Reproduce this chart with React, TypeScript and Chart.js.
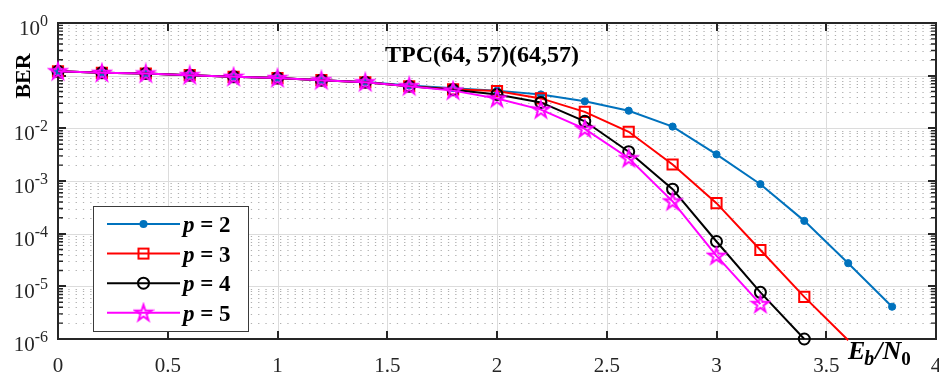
import React, { useEffect, useRef } from 'react';
import { Chart, registerables } from 'chart.js';

Chart.register(...registerables);

// ---------------- data ----------------
const ebn0 = [0, 0.2, 0.4, 0.6, 0.8, 1.0, 1.2, 1.4, 1.6, 1.8, 2.0, 2.2, 2.4, 2.6, 2.8, 3.0, 3.2, 3.4, 3.6, 3.8];
const berP2 = [0.121, 0.113, 0.11, 0.102, 0.095, 0.09, 0.082, 0.076, 0.065, 0.058, 0.052, 0.044, 0.0326, 0.0216, 0.0108, 0.0032, 0.00087, 1.75e-4, 2.75e-5, 4.1e-6];
const berP3 = [0.121, 0.113, 0.11, 0.102, 0.095, 0.09, 0.082, 0.075, 0.063, 0.055, 0.051, 0.037, 0.0205, 0.0086, 0.00206, 3.8e-4, 4.9e-5, 6.3e-6, 9.5e-7];
const berP4 = [0.121, 0.113, 0.11, 0.102, 0.095, 0.09, 0.082, 0.075, 0.063, 0.054, 0.044, 0.031, 0.0136, 0.0036, 7.0e-4, 7.1e-5, 7.7e-6, 1.0e-6];
const berP5 = [0.121, 0.113, 0.11, 0.102, 0.095, 0.09, 0.082, 0.075, 0.063, 0.052, 0.037, 0.0227, 0.0098, 0.0027, 4.1e-4, 3.8e-5, 4.6e-6];
const seriesP = ['2', '3', '4', '5'];
const xTickValues = [0, 0.5, 1, 1.5, 2, 2.5, 3, 3.5, 4];
const xTickLabels = ['0', '0.5', '1', '1.5', '2', '2.5', '3', '3.5', '4'];
const yExponents = [0, -1, -2, -3, -4, -5, -6];
const yLabelExponents = [0, -2, -3, -4, -5, -6];
const titleText = 'TPC(64, 57)(64,57)';
const yTitleText = 'BER';

const Y_MIN = 1e-6;
const Y_MAX = 1;
const FONT = "'Liberation Serif', 'Times New Roman', serif";
const AXIS = '#262626';

function makeStar(color: string): HTMLCanvasElement {
  const c = document.createElement('canvas');
  c.width = 22;
  c.height = 22;
  const g = c.getContext('2d')!;
  const R = 8.5;
  const r = R * 0.382;
  g.beginPath();
  for (let i = 0; i < 10; i++) {
    const ang = -Math.PI / 2 + (i * Math.PI) / 5;
    const rad = i % 2 === 0 ? R : r;
    const px = 11 + rad * Math.cos(ang);
    const py = 11.5 + rad * Math.sin(ang);
    if (i === 0) g.moveTo(px, py);
    else g.lineTo(px, py);
  }
  g.closePath();
  g.strokeStyle = color;
  g.lineWidth = 2;
  g.stroke();
  return c;
}

type Kind = 'dot' | 'square' | 'circle' | 'star';

function drawMarker(ctx: CanvasRenderingContext2D, kind: Kind, x: number, y: number, color: string, star: HTMLCanvasElement) {
  ctx.save();
  ctx.setLineDash([]);
  if (kind === 'dot') {
    ctx.fillStyle = color;
    ctx.beginPath();
    ctx.arc(x, y, 4, 0, Math.PI * 2);
    ctx.fill();
  } else if (kind === 'square') {
    ctx.strokeStyle = color;
    ctx.lineWidth = 2;
    ctx.strokeRect(x - 5, y - 5, 10, 10);
  } else if (kind === 'circle') {
    ctx.strokeStyle = color;
    ctx.lineWidth = 2;
    ctx.beginPath();
    ctx.arc(x, y, 5.5, 0, Math.PI * 2);
    ctx.stroke();
  } else {
    ctx.drawImage(star, x - 11, y - 11);
  }
  ctx.restore();
}

export default function App() {
  const ref = useRef<HTMLCanvasElement | null>(null);

  useEffect(() => {
    if (!ref.current) return;
    const star = makeStar('#FF00FF');
    const colors = ['#0072BD', '#FF0000', '#000000', '#FF00FF'];
    const kinds: Kind[] = ['dot', 'square', 'circle', 'star'];
    const bers = [berP2, berP3, berP4, berP5];
    const pts = bers.map((b) => b.map((v, i) => ({ x: ebn0[i], y: v })));

    const radiusFor = (r: number) => (c: any) => (c.raw && c.raw.y < Y_MIN ? 0 : r);

    const plugin = {
      id: 'matlabLook',
      beforeDatasetsDraw(chart: any) {
        const { ctx, chartArea: a, scales } = chart;
        const xs = scales.x;
        const ys = scales.y;
        ctx.save();
        // minor dotted horizontal grid
        ctx.lineWidth = 1;
        ctx.strokeStyle = '#b0b0b0';
        ctx.setLineDash([1.3, 6]);
        for (let e = -6; e < 0; e++) {
          for (let m = 2; m <= 9; m++) {
            const py = Math.round(ys.getPixelForValue(m * Math.pow(10, e))) + 0.5;
            ctx.beginPath();
            ctx.moveTo(a.left + 3, py);
            ctx.lineTo(a.right, py);
            ctx.stroke();
          }
        }
        // major grid
        ctx.setLineDash([]);
        ctx.strokeStyle = '#dcdcdc';
        xTickValues.slice(1, -1).forEach((v) => {
          const px = Math.round(xs.getPixelForValue(v)) + 0.5;
          ctx.beginPath();
          ctx.moveTo(px, a.top);
          ctx.lineTo(px, a.bottom);
          ctx.stroke();
        });
        yExponents.slice(1, -1).forEach((e) => {
          const py = Math.round(ys.getPixelForValue(Math.pow(10, e))) + 0.5;
          ctx.beginPath();
          ctx.moveTo(a.left, py);
          ctx.lineTo(a.right, py);
          ctx.stroke();
        });
        // box
        ctx.strokeStyle = AXIS;
        ctx.lineWidth = 2;
        ctx.strokeRect(a.left, a.top, a.right - a.left, a.bottom - a.top);
        // x ticks
        xTickValues.slice(1, -1).forEach((v) => {
          const px = Math.round(xs.getPixelForValue(v));
          ctx.beginPath();
          ctx.moveTo(px, a.bottom);
          ctx.lineTo(px, a.bottom - 8);
          ctx.moveTo(px, a.top);
          ctx.lineTo(px, a.top + 8);
          ctx.stroke();
        });
        // y ticks
        for (let e = -6; e <= 0; e++) {
          const py = Math.round(ys.getPixelForValue(Math.pow(10, e)));
          ctx.lineWidth = 2;
          ctx.beginPath();
          ctx.moveTo(a.left, py);
          ctx.lineTo(a.left + 8, py);
          ctx.moveTo(a.right, py);
          ctx.lineTo(a.right - 8, py);
          ctx.stroke();
          if (e === 0) continue;
          ctx.lineWidth = 1.4;
          for (let m = 2; m <= 9; m++) {
            const q = ys.getPixelForValue(m * Math.pow(10, e));
            ctx.beginPath();
            ctx.moveTo(a.left, q);
            ctx.lineTo(a.left + 5, q);
            ctx.moveTo(a.right, q);
            ctx.lineTo(a.right - 5, q);
            ctx.stroke();
          }
        }
        ctx.restore();
      },
      afterDatasetsDraw(chart: any) {
        const { ctx } = chart;
        ctx.save();
        // legend box
        const lx = 93;
        const ly = 206;
        const lw = 155;
        const lh = 125;
        ctx.fillStyle = '#ffffff';
        ctx.fillRect(lx, ly, lw, lh);
        ctx.strokeStyle = '#3a3a3a';
        ctx.lineWidth = 1;
        ctx.strokeRect(lx + 0.5, ly + 0.5, lw, lh);
        seriesP.forEach((p, i) => {
          const y = 224 + i * 29.6;
          ctx.strokeStyle = colors[i];
          ctx.lineWidth = 2;
          ctx.beginPath();
          ctx.moveTo(107, y);
          ctx.lineTo(180, y);
          ctx.stroke();
          drawMarker(ctx, kinds[i], 143.5, y, colors[i], star);
          ctx.fillStyle = '#000000';
          ctx.textBaseline = 'alphabetic';
          ctx.textAlign = 'left';
          ctx.font = `italic bold 23px ${FONT}`;
          ctx.fillText('p', 183, y + 8);
          const wp = ctx.measureText('p').width;
          ctx.font = `bold 23px ${FONT}`;
          ctx.fillText(' = ' + p, 183 + wp, y + 8);
        });
        ctx.restore();
      },
      afterDraw(chart: any) {
        const { ctx, scales, chartArea: a } = chart;
        const ys = scales.y;
        const xs = scales.x;
        ctx.save();
        ctx.fillStyle = AXIS;
        ctx.textBaseline = 'alphabetic';
        ctx.textAlign = 'left';
        // y tick labels 10^e
        yLabelExponents.forEach((e) => {
          const py = ys.getPixelForValue(Math.pow(10, e));
          const sup = String(e);
          ctx.font = `16px ${FONT}`;
          const ws = ctx.measureText(sup).width;
          ctx.font = `21px ${FONT}`;
          const w10 = ctx.measureText('10').width;
          const right = 48;
          ctx.fillText('10', right - ws - w10, py + 12);
          ctx.font = `16px ${FONT}`;
          ctx.fillText(sup, right - ws, py + 3);
        });
        // x tick labels
        ctx.font = `21px ${FONT}`;
        ctx.textAlign = 'center';
        xTickValues.forEach((v, i) => {
          ctx.fillText(xTickLabels[i], xs.getPixelForValue(v), a.bottom + 33);
        });
        // title inside plot
        ctx.fillStyle = '#000000';
        ctx.font = `bold 24px ${FONT}`;
        ctx.textAlign = 'center';
        ctx.fillText(titleText, 482, 62);
        // y title
        ctx.save();
        ctx.translate(30, 76);
        ctx.rotate(-Math.PI / 2);
        ctx.font = `bold 22px ${FONT}`;
        ctx.textAlign = 'center';
        ctx.fillText(yTitleText, 0, 0);
        ctx.restore();
        // x title E_b / N_0
        ctx.textAlign = 'left';
        let x = 848;
        const base = 359;
        ctx.font = `italic bold 26px ${FONT}`;
        ctx.fillText('E', x, base);
        x += ctx.measureText('E').width - 1;
        ctx.font = `italic bold 20px ${FONT}`;
        ctx.fillText('b', x, base + 6);
        x += ctx.measureText('b').width + 1;
        ctx.font = `italic bold 26px ${FONT}`;
        ctx.fillText('/', x, base);
        x += ctx.measureText('/').width;
        ctx.fillText('N', x, base);
        x += ctx.measureText('N').width;
        ctx.font = `bold 19px ${FONT}`;
        ctx.fillText('0', x, base + 6);
        ctx.restore();
      },
    };

    const chart = new Chart(ref.current, {
      type: 'line',
      data: {
        datasets: seriesP.map((p, i) => ({
          label: 'p = ' + p,
          data: pts[i],
          borderColor: colors[i],
          backgroundColor: i === 0 ? colors[i] : 'rgba(0,0,0,0)',
          borderWidth: 2,
          pointStyle: i === 0 ? 'circle' : i === 1 ? 'rect' : i === 2 ? 'circle' : star,
          pointRadius: radiusFor(i === 0 ? 3.6 : i === 1 ? 7.2 : i === 2 ? 5.5 : 6),
          pointBorderWidth: i === 0 ? 1 : 2,
          pointBorderColor: colors[i],
          pointBackgroundColor: i === 0 ? colors[i] : 'rgba(0,0,0,0)',
          order: 4 - i,
          clip: false as any,
          tension: 0,
        })),
      },
      options: {
        animation: false,
        responsive: false,
        maintainAspectRatio: false,
        layout: { padding: { top: 23, right: 3, left: 0, bottom: 0 }, autoPadding: false } as any,
        plugins: {
          legend: { display: false },
          tooltip: { enabled: false },
          title: { display: false },
        },
        scales: {
          x: {
            type: 'linear',
            min: 0,
            max: 4,
            grid: { display: false, drawTicks: false },
            border: { display: false },
            ticks: { display: false, stepSize: 0.5 },
            afterFit: (s: any) => {
              s.height = 35;
            },
          },
          y: {
            type: 'logarithmic',
            min: Y_MIN,
            max: Y_MAX,
            grid: { display: false, drawTicks: false },
            border: { display: false },
            ticks: { display: false },
            afterFit: (s: any) => {
              s.width = 58;
            },
          },
        },
      } as any,
      plugins: [plugin],
    });
    return () => chart.destroy();
  }, []);

  return (
    <div style={{ position: 'absolute', left: 0, top: 0, width: 939, height: 374, background: '#fff' }}>
      <canvas ref={ref} width={939} height={374} style={{ width: 939, height: 374, display: 'block' }} />
    </div>
  );
}
